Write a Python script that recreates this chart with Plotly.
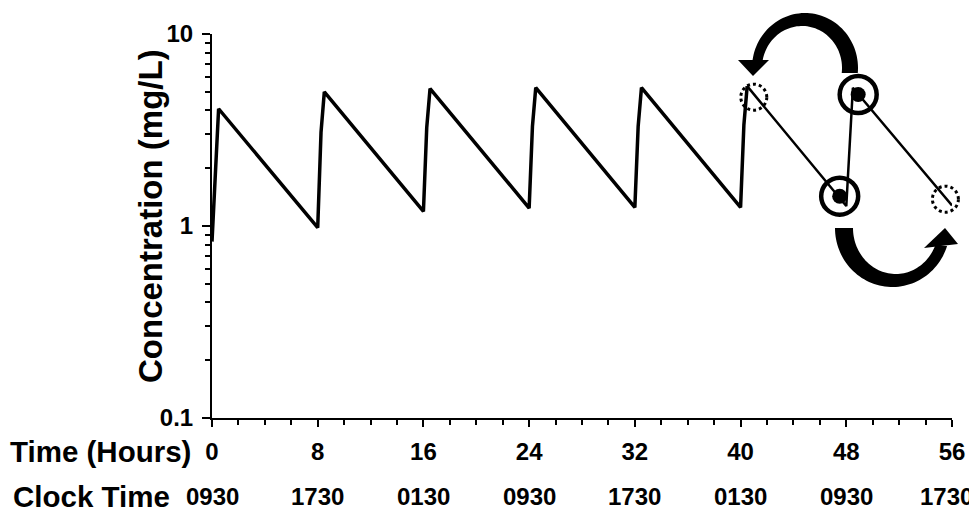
import numpy as np
import plotly.graph_objects as go

# ---------------- data ----------------
time_h = [0, 0.25, 0.5, 8, 8.25, 8.5, 16, 16.25, 16.5, 24, 24.25, 24.5,
          32, 32.25, 32.5, 40, 40.25, 40.5]
conc = [0.83, 2.05, 4.08, 0.98, 3.07, 5.0, 1.19, 3.25, 5.2, 1.24, 3.3, 5.25,
        1.25, 3.3, 5.25, 1.25, 3.35, 5.35]

time_adj = [40.5, 48.0, 48.5, 56.0]
conc_adj = [5.35, 1.27, 5.25, 1.28]

dot_time = [47.5, 48.9]
dot_conc = [1.43, 4.84]

dotted_time = [41.0, 55.5]
dotted_conc = [4.69, 1.38]

hour_ticks = [0, 8, 16, 24, 32, 40, 48, 56]
hour_labels = ["0", "8", "16", "24", "32", "40", "48", "56"]
clock_labels = ["0930", "1730", "0130", "0930", "1730", "0130", "0930", "1730"]
y_ticks = [0.1, 1, 10]
y_labels = ["0.1", "1", "10"]

# ---------------- layout geometry ----------------
OFF = 8                      # page body margin of the html page
W, H = 977 - OFF, 514 - OFF
L, T = 212 - OFF, 34 - OFF
PW, PH = 740, 384
R, B = W - L - PW, H - T - PH
X_MAX = 56
Y_LOG_MIN, Y_LOG_MAX = -1, 1

FONT = "Liberation Sans, Arial, sans-serif"


def px_to_paper(x, y):
    # x, y are page pixel positions
    return (x - OFF - L) / PW, (T + PH - (y - OFF)) / PH


def data_to_paper(t, c):
    return t / X_MAX, (np.log10(c) - Y_LOG_MIN) / (Y_LOG_MAX - Y_LOG_MIN)


def poly_path(points):
    segs = []
    for i, (x, y) in enumerate(points):
        u, v = px_to_paper(x, y)
        segs.append(("M" if i == 0 else "L") + f"{u:.5f},{v:.5f}")
    return " ".join(segs) + " Z"


def band_path(outer, inner, s, ya, side_a, yb, side_b, n=60):
    def ang(e, y, side):
        cx, cy, rx, ry = e
        a = np.arcsin(np.clip(s * (y - cy) / ry, -1, 1))
        return a if side == "right" else np.pi - a

    def pts(e, a0, a1):
        cx, cy, rx, ry = e
        ph = np.linspace(a0, a1, n)
        return [(cx + rx * np.cos(p), cy + s * ry * np.sin(p)) for p in ph]

    po = pts(outer, ang(outer, ya, side_a), ang(outer, yb, side_b))
    pi_ = pts(inner, ang(inner, yb, side_b), ang(inner, ya, side_a))
    return poly_path(po + pi_)


fig = go.Figure()

fig.add_trace(go.Scatter(x=time_h, y=conc, mode="lines",
                         line=dict(color="black", width=3.5), showlegend=False))
fig.add_trace(go.Scatter(x=time_adj, y=conc_adj, mode="lines",
                         line=dict(color="black", width=2.5), showlegend=False))
fig.add_trace(go.Scatter(x=dot_time, y=dot_conc, mode="markers",
                         marker=dict(color="black", size=15), showlegend=False))
fig.add_trace(go.Scatter(x=dot_time, y=dot_conc, mode="markers",
                         marker=dict(symbol="circle-open", size=37, color="black",
                                     line=dict(color="black", width=4.5)),
                         showlegend=False))

shapes = []
r_px = 13
for t, c in zip(dotted_time, dotted_conc):
    u, v = data_to_paper(t, c)
    shapes.append(dict(type="circle", xref="paper", yref="paper",
                       x0=u - r_px / PW, x1=u + r_px / PW,
                       y0=v - r_px / PH, y1=v + r_px / PH,
                       line=dict(color="black", width=3, dash="dot")))

# top curved arrow
shapes.append(dict(type="path", xref="paper", yref="paper",
                   path=band_path((805, 68, 53, 55), (802, 68, 40, 42), -1,
                                  73, "right", 60, "left"),
                   fillcolor="black", line=dict(width=0)))
shapes.append(dict(type="path", xref="paper", yref="paper",
                   path=poly_path([(738, 60), (769, 60), (753, 76)]),
                   fillcolor="black", line=dict(width=0)))
# bottom curved arrow
shapes.append(dict(type="path", xref="paper", yref="paper",
                   path=band_path((892.4, 228, 57.4, 59), (895.7, 228, 42.7, 46), 1,
                                  228, "left", 246, "right"),
                   fillcolor="black", line=dict(width=0)))
shapes.append(dict(type="path", xref="paper", yref="paper",
                   path=poly_path([(924, 248), (958, 244), (945, 228)]),
                   fillcolor="black", line=dict(width=0)))

annotations = []
u, v = px_to_paper(150, 216)
annotations.append(dict(text="Concentration (mg/L)", xref="paper", yref="paper",
                        x=u, y=v, xanchor="center", yanchor="middle",
                        textangle=-90, showarrow=False,
                        font=dict(family=FONT, size=33, color="black", weight="bold")))
u, v = px_to_paper(193, 451)
annotations.append(dict(text="Time (Hours)", xref="paper", yref="paper", x=u, y=v,
                        xanchor="right", yanchor="middle", showarrow=False,
                        font=dict(family=FONT, size=29.5, color="black", weight="bold")))
u, v = px_to_paper(172, 496)
annotations.append(dict(text="Clock Time", xref="paper", yref="paper", x=u, y=v,
                        xanchor="right", yanchor="middle", showarrow=False,
                        font=dict(family=FONT, size=29.5, color="black", weight="bold")))
_, vclk = px_to_paper(0, 496)
for i, (t, lab) in enumerate(zip(hour_ticks, clock_labels)):
    last = i == len(hour_ticks) - 1
    annotations.append(dict(text=lab, x=t, xref="x", y=vclk, yref="paper",
                            xanchor="right" if last else "center",
                            xshift=23 if last else 0,
                            yanchor="middle", showarrow=False,
                            font=dict(family=FONT, size=24, color="black", weight="bold")))

minor_y = [k * 0.1 for k in range(2, 10)] + [float(k) for k in range(2, 10)]

fig.update_layout(
    width=W, height=H,
    margin=dict(l=L, r=R, t=T, b=B),
    paper_bgcolor="white", plot_bgcolor="white",
    shapes=shapes, annotations=annotations,
    xaxis=dict(range=[0, X_MAX], tickmode="array", tickvals=hour_ticks, ticktext=hour_labels,
               ticks="outside", ticklen=7, tickwidth=2, tickcolor="black",
               showline=True, linewidth=2, linecolor="black", showgrid=False, zeroline=False,
               tickfont=dict(family=FONT, size=24, color="black", weight="bold"),
               ticklabelstandoff=4,
               minor=dict(dtick=2, tick0=0, ticks="outside", ticklen=5, tickwidth=2,
                          tickcolor="black", showgrid=False)),
    yaxis=dict(type="log", range=[Y_LOG_MIN, Y_LOG_MAX], tickmode="array",
               tickvals=y_ticks, ticktext=y_labels,
               ticks="outside", ticklen=8, tickwidth=2, tickcolor="black",
               showline=True, linewidth=2, linecolor="black", showgrid=False, zeroline=False,
               tickfont=dict(family=FONT, size=24, color="black", weight="bold"),
               ticklabelstandoff=4,
               minor=dict(tickmode="array", tickvals=minor_y, ticks="outside", ticklen=5,
                          tickwidth=2, tickcolor="black", showgrid=False)),
)

fig.write_html("out.html")
